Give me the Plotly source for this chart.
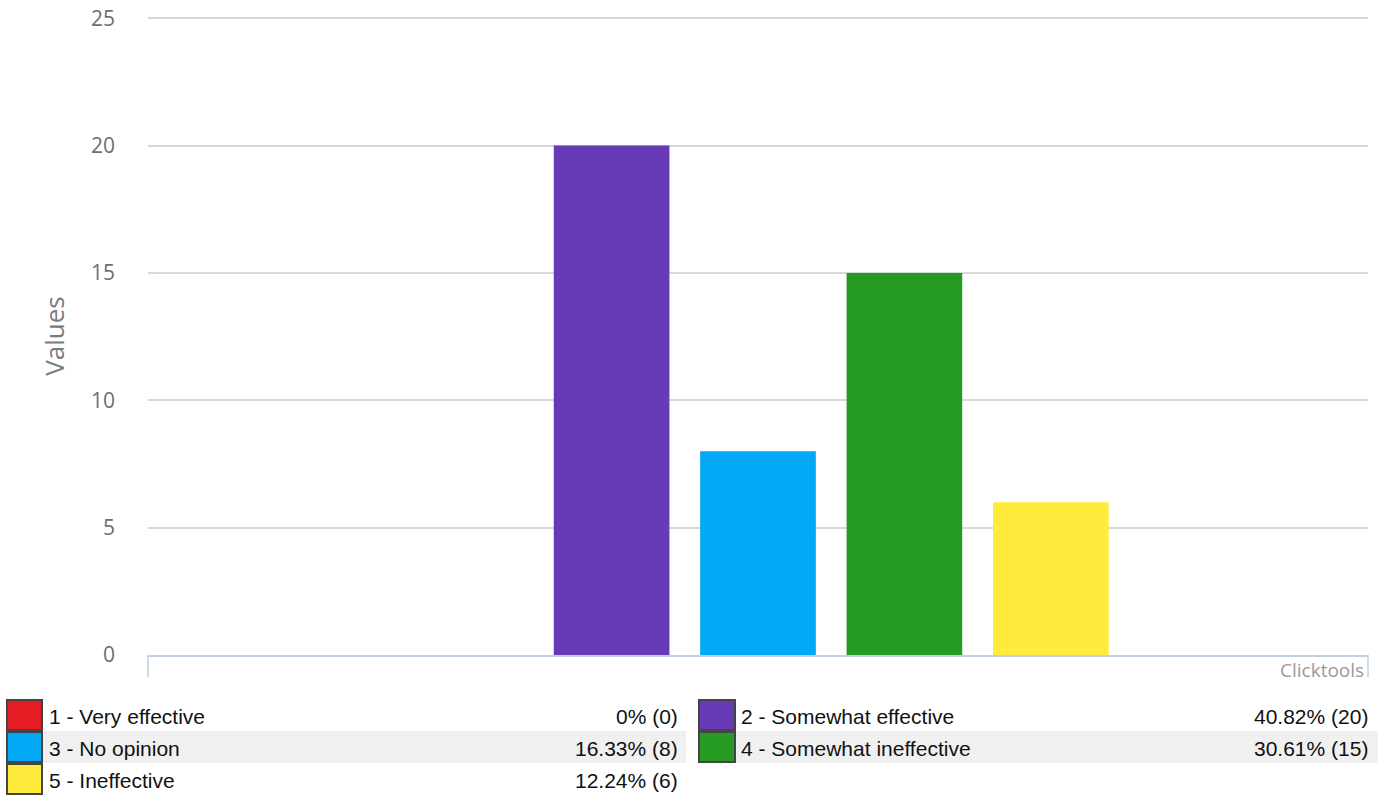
import plotly.graph_objects as go

# ---- data ----
labels = ["1 - Very effective", "2 - Somewhat effective", "3 - No opinion",
          "4 - Somewhat ineffective", "5 - Ineffective"]
values = [0, 20, 8, 15, 6]
percents = ["0%", "40.82%", "16.33%", "30.61%", "12.24%"]
colors = ["#E51C23", "#673AB7", "#03A9F4", "#259B24", "#FFEB3B"]
y_ticks = [0, 5, 10, 15, 20, 25]
y_max = 25.05

W, H = 1387, 798
L, R, T, B = 148, 19, 17, 143
PW, PH = W - L - R, H - T - B


def px(x):
    return (x - L) / PW


def py(y):
    return (H - B - y) / PH


fig = go.Figure()
for lab, v, c in zip(labels, values, colors):
    fig.add_trace(go.Bar(x=["Q"], y=[v], name=lab, marker=dict(color=c, line=dict(width=0))))

shapes = []
annotations = []

# end ticks of the x axis
for xx in (0, 1):
    shapes.append(dict(type="line", xref="paper", yref="paper", x0=xx, x1=xx,
                       y0=0, y1=py(677), line=dict(color="#c0d0e0", width=1.5)))

annotations.append(dict(text="Clicktools", xref="paper", yref="paper", x=px(1366), y=py(670),
                        xanchor="right", yanchor="middle", showarrow=False,
                        font=dict(family="Open Sans", size=19, color="#9a9a9a")))

# custom legend table
row_h = 32
top0 = 699
cols = [dict(sq0=7, sq1=42, tx=47, pr=680, band0=42, band1=686),
        dict(sq0=699, sq1=735, tx=739, pr=1370, band0=735, band1=1378)]
for i, (lab, v, pc, c) in enumerate(zip(labels, values, percents, colors)):
    row, col = i // 2, i % 2
    cfg = cols[col]
    y0 = top0 + row * row_h
    y1 = y0 + row_h
    if row == 1:
        shapes.append(dict(type="rect", xref="paper", yref="paper", layer="below",
                           x0=px(cfg["band0"]), x1=px(cfg["band1"]), y0=py(y1), y1=py(y0),
                           fillcolor="#f0f0f0", line=dict(width=0)))
    shapes.append(dict(type="rect", xref="paper", yref="paper",
                       x0=px(cfg["sq0"]), x1=px(cfg["sq1"]), y0=py(y1 - 1), y1=py(y0 + 1),
                       fillcolor=c, line=dict(color="#444444", width=2)))
    ym = py((y0 + y1) / 2 + 1)
    annotations.append(dict(text=lab, xref="paper", yref="paper", x=px(cfg["tx"]), y=ym,
                            xanchor="left", yanchor="middle", showarrow=False,
                            font=dict(family="Liberation Sans, Arial", size=21, color="#111111")))
    annotations.append(dict(text=f"{pc} ({v})", xref="paper", yref="paper", x=px(cfg["pr"]), y=ym,
                            xanchor="right", yanchor="middle", showarrow=False,
                            font=dict(family="Liberation Sans, Arial", size=21, color="#111111")))

fig.update_layout(
    width=W, height=H, autosize=False,
    margin=dict(l=L, r=R, t=T, b=B, pad=0),
    paper_bgcolor="white", plot_bgcolor="white",
    barmode="group", bargap=0.4, bargroupgap=0.21,
    showlegend=False,
    shapes=shapes, annotations=annotations,
    xaxis=dict(showticklabels=False, showgrid=False, zeroline=False, automargin=False,
               showline=True, linecolor="#c0d0e0", linewidth=1.5, ticks=""),
    yaxis=dict(range=[0, y_max], tickvals=y_ticks, showgrid=True, gridcolor="#d9d9d9",
               gridwidth=1.5, zeroline=False, showline=False, ticks="", automargin=False,
               ticklabelstandoff=32, ticklabeloverflow="allow",
               tickfont=dict(family="Open Sans", size=21, color="#6e6e6e"),
               title=dict(text="Values", standoff=18,
                          font=dict(family="Open Sans", size=26, color="#7a7a7a"))),
)

fig.write_html("out.html", config={"displayModeBar": False},
               post_script="document.body.style.margin='0';")
